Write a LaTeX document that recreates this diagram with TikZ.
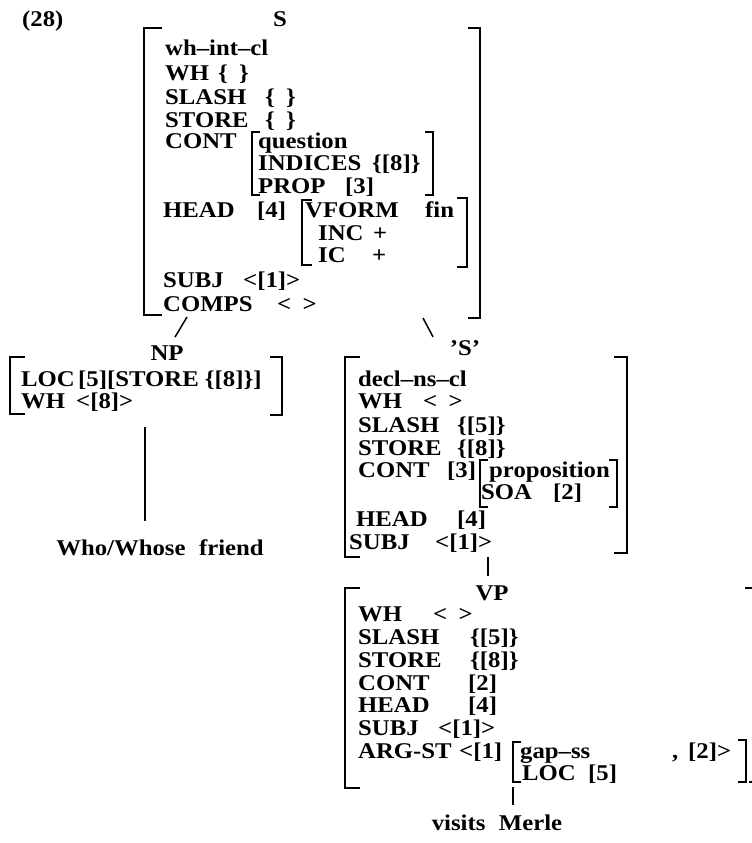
\documentclass[tikz,border=0pt]{standalone}
\usepackage{fontspec}
\setmainfont{Liberation Serif}[FakeStretch=1.1]
\usepackage{tikz}
\usetikzlibrary{positioning}

\newcommand{\avmfont}{\fontsize{22.5}{24}\selectfont\bfseries}
\tikzset{
  avm/.style={anchor=base west, inner sep=0pt, font=\avmfont},
  cat/.style={anchor=base, inner sep=0pt, font=\avmfont},
  brk/.style={line width=1.8pt},
  branch/.style={line width=1.5pt},
}

\begin{document}
\begin{tikzpicture}[x=1pt,y=-1pt]
  % 1pt = 1px of the page, y runs downwards
  \useasboundingbox (0,0) rectangle (752,843);
  \clip (0,0) rectangle (752,843);

  % Example number and root
  \node[avm] (exnum) at (22,27) {(28)};
  \node[cat] (s) at (280,27) {S};

  % S: wh-int-cl
  \draw[brk] (162,28) -| (144,315) -- (162,315);
  \draw[brk] (468,28) -| (480,318) -- (468,318);
  \node[avm] (s-type) at (165,56) {wh--int--cl};
  \foreach \nm/\lab/\xv/\val/\y in {wh/WH/218/{\{\enspace\}}/81, slash/SLASH/265/{\{\enspace\}}/104, store/STORE/265/{\{\enspace\}}/127} {
    \node[avm] (s-\nm) at (165,\y) {\lab};
    \node[avm] (s-\nm-v) at (\xv,\y) {\val};
  }

  % S: CONT question
  \node[avm] (s-cont) at (165,148) {CONT};
  \draw[brk] (260,132) -| (252,195) -- (260,195);
  \draw[brk] (425,132) -| (433,195) -- (425,195);
  \node[avm] (s-q) at (258,148) {question};
  \node[avm] (s-ind) at (258,170) {INDICES};
  \node[avm] (s-ind-v) at (372,170) {\{[8]\}};
  \node[avm] (s-prop) at (258,193) {PROP};
  \node[avm] (s-prop-v) at (345,193) {[3]};

  % S: HEAD
  \node[avm] (s-head) at (163,217) {HEAD};
  \node[avm] (s-head-v) at (257,217) {[4]};
  \draw[brk] (312,200) -| (302,265) -- (312,265);
  \draw[brk] (457,198) -| (467,267) -- (457,267);
  \node[avm] (s-vform) at (305,217) {VFORM};
  \node[avm] (s-vform-v) at (425,217) {fin};
  \node[avm] (s-inc) at (318,240) {INC};
  \node[avm] (s-inc-v) at (373,240) {+};
  \node[avm] (s-ic) at (318,262) {IC};
  \node[avm] (s-ic-v) at (372,262) {+};

  % S: valence
  \node[avm] (s-subj) at (163,287) {SUBJ};
  \node[avm] (s-subj-v) at (243,287) {<[1]>};
  \node[avm] (s-comps) at (163,311) {COMPS};
  \node[avm] (s-comps-v) at (277,311) {<\enspace>};

  % NP daughter
  \node[cat] (np) at (167,360) {NP};
  \coordinate (s-lo) at (187,317);
  \draw[branch] (s-lo) -- ([xshift=8pt,yshift=8pt]np.north);
  \draw[brk] (25,357) -| (10,414) -- (25,414);
  \draw[brk] (270,357) -| (282,415) -- (270,415);
  \node[avm] (np-loc) at (21,386) {LOC};
  \node[avm] (np-loc-v) at (78,386) {[5][STORE \{[8]\}]};
  \node[avm] (np-wh) at (21,408) {WH};
  \node[avm] (np-wh-v) at (76,408) {<[8]>};

  \node[cat] (who) at (160,555) {Who/Whose\hspace{0.6em}friend};
  \coordinate (np-lo) at (145,427);
  \draw[branch, shorten >=18pt] (np-lo) -- (np-lo |- who.north);

  % 'S' daughter: decl-ns-cl
  \node[cat] (sp) at (465,355) {'S'};
  \coordinate (s-ro) at (423,318);
  \draw[branch] (s-ro) -- ([xshift=-32pt,yshift=3pt]sp.north);
  \draw[brk] (360,357) -| (345,557) -- (360,557);
  \draw[brk] (614,357) -| (627,553) -- (614,553);
  \node[avm] (sp-type) at (358,386) {decl--ns--cl};
  \foreach \nm/\lab/\xv/\val/\y in {wh/WH/423/{<\enspace>}/408, slash/SLASH/457/{\{[5]\}}/432, store/STORE/457/{\{[8]\}}/455} {
    \node[avm] (sp-\nm) at (358,\y) {\lab};
    \node[avm] (sp-\nm-v) at (\xv,\y) {\val};
  }
  \node[avm] (sp-cont) at (358,477) {CONT};
  \node[avm] (sp-cont-v) at (447,477) {[3]};
  \draw[brk] (488,460) -| (480,507) -- (488,507);
  \draw[brk] (609,460) -| (617,507) -- (609,507);
  \node[avm] (sp-prop) at (489,477) {proposition};
  \node[avm] (sp-soa) at (481,499) {SOA};
  \node[avm] (sp-soa-v) at (553,499) {[2]};
  \node[avm] (sp-head) at (356,526) {HEAD};
  \node[avm] (sp-head-v) at (457,526) {[4]};
  \node[avm] (sp-subj) at (349,549) {SUBJ};
  \node[avm] (sp-subj-v) at (435,549) {<[1]>};

  % VP
  \node[cat] (vp) at (492,600) {VP};
  \coordinate (sp-lo) at (488,557);
  \draw[branch, shorten >=9pt] (sp-lo) -- (sp-lo |- vp.north);
  \draw[brk] (360,588) -| (345,788) -- (360,788);
  \draw[brk] (745,588) -| (756,782) -- (749,782);
  \foreach \nm/\lab/\xv/\val/\y in {wh/WH/433/{<\enspace>}/621, slash/SLASH/470/{\{[5]\}}/644, store/STORE/470/{\{[8]\}}/667, cont/CONT/468/{[2]}/690, head/HEAD/468/{[4]}/712, subj/SUBJ/438/{<[1]>}/735} {
    \node[avm] (vp-\nm) at (358,\y) {\lab};
    \node[avm] (vp-\nm-v) at (\xv,\y) {\val};
  }
  \node[avm] (vp-arg) at (358,758) {ARG-ST};
  \node[avm] (vp-arg-v) at (459,758) {<[1]};
  \draw[brk] (521,742) -| (513,782) -- (521,782);
  \draw[brk] (738,740) -| (746,782) -- (738,782);
  \node[avm] (vp-gap) at (520,758) {gap--ss};
  \node[avm] (vp-gloc) at (522,780) {LOC};
  \node[avm] (vp-gloc-v) at (588,780) {[5]};
  \node[avm] (vp-comma) at (672,758) {,};
  \node[avm] (vp-arg-end) at (688,758) {[2]>};

  \node[cat] (visits) at (497,830) {visits\hspace{0.6em}Merle};
  \coordinate (vp-lo) at (513,787);
  \draw[branch, shorten >=9pt] (vp-lo) -- (vp-lo |- visits.north);
\end{tikzpicture}
\end{document}
